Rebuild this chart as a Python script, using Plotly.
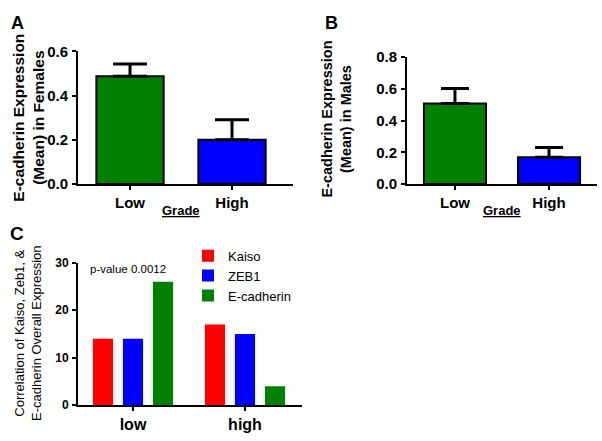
import plotly.graph_objects as go

# ---- data ----
grades = ["Low", "High"]
fem_mean = [0.487, 0.200]
fem_err = [0.056, 0.091]
male_mean = [0.507, 0.168]
male_err = [0.095, 0.062]

levels = ["low", "high"]
kaiso = [14, 17]
zeb1 = [14, 15]
ecad = [26, 4]

GREEN = "#008000"
BLUE = "#0000ff"
RED = "#ff0000"
FONT = "Liberation Sans"
W, H = 602, 441

def px_x(a, b):
    return [a / W, b / W]

def px_y(top, bottom):
    return [(H - bottom) / H, (H - top) / H]

fig = go.Figure()

# Panel A
fig.add_trace(go.Bar(
    x=grades, y=fem_mean, marker=dict(color=[GREEN, BLUE], line=dict(color="black", width=2)),
    width=0.66, showlegend=False, xaxis="x", yaxis="y",
    error_y=dict(type="data", symmetric=False, array=fem_err, arrayminus=[0, 0],
                 color="black", thickness=3, width=17)))
# Panel B
fig.add_trace(go.Bar(
    x=grades, y=male_mean, marker=dict(color=[GREEN, BLUE], line=dict(color="black", width=2)),
    width=0.66, showlegend=False, xaxis="x2", yaxis="y2",
    error_y=dict(type="data", symmetric=False, array=male_err, arrayminus=[0, 0],
                 color="black", thickness=3, width=14)))
# Panel C
for name, vals, col, off in [("Kaiso", kaiso, RED, -0.358), ("ZEB1", zeb1, BLUE, -0.09),
                             ("E-cadherin", ecad, GREEN, 0.178)]:
    fig.add_trace(go.Bar(x=levels, y=vals, name=name, marker=dict(color=col, line=dict(width=0)),
                         width=0.18, offset=off, xaxis="x3", yaxis="y3"))

bold = dict(family=FONT, size=15, color="black", weight="bold")
common_y = dict(showline=True, linecolor="black", linewidth=2, ticks="outside", ticklen=4,
                tickwidth=2, tickcolor="black", showgrid=False, zeroline=False, tickfont=bold,
                ticklabelstandoff=1)
common_x = dict(showline=True, linecolor="black", linewidth=2, ticks="outside", ticklen=4,
                tickwidth=2, tickcolor="black", showgrid=False, zeroline=False, tickfont=bold)

fig.update_layout(
    width=W, height=H, margin=dict(l=0, r=0, t=0, b=0),
    paper_bgcolor="white", plot_bgcolor="white", barmode="overlay",
    xaxis=dict(common_x, domain=px_x(78, 293), range=[-0.51, 1.598], anchor="y"),
    yaxis=dict(common_y, domain=px_y(44, 182), range=[0, 0.6], tickvals=[0, 0.2, 0.4, 0.6],
               tickformat=".1f", anchor="x"),
    xaxis2=dict(common_x, domain=px_x(407, 597), range=[-0.51, 1.51], anchor="y2"),
    yaxis2=dict(common_y, domain=px_y(50, 182), range=[0, 0.8], tickvals=[0, 0.2, 0.4, 0.6, 0.8],
                tickformat=".1f", anchor="x2"),
    xaxis3=dict(common_x, domain=px_x(78, 302), range=[-0.491, 1.509], anchor="y3",
                tickfont=dict(family=FONT, size=16, color="black", weight="bold")),
    yaxis3=dict(common_y, domain=px_y(264, 412), range=[0, 30], tickvals=[0, 10, 20, 30],
                anchor="x3", tickfont=dict(family=FONT, size=12, color="black", weight="bold")),
    legend=dict(x=188 / W, y=(H - 241) / H, xanchor="left", yanchor="top",
                font=dict(family=FONT, size=13, color="black"), bgcolor="rgba(0,0,0,0)",
                tracegroupgap=0),
    font=dict(family=FONT),
)

def ann(text, x, y, size, weight="bold", angle=0, underline=False):
    f = dict(family=FONT, size=size, color="black", weight=weight)
    if underline:
        f["lineposition"] = "under"
    fig.add_annotation(text=text, x=x / W, y=(H - y) / H, xref="paper", yref="paper",
                       showarrow=False, textangle=angle, font=f, xanchor="center", yanchor="middle")

ann("A", 17, 15, 18)
ann("B", 331, 15, 18)
ann("C", 17, 234, 19)
ann("E-cadherin Expression<br>(Mean) in Females", 29, 113, 15.5, angle=-90)
ann("E-cadherin Expression<br>(Mean) in Males", 337, 114, 14.5, angle=-90)
ann("Correlation of Kaiso, Zeb1, &<br>E-cadherin Overall Expression", 28, 337, 13,
    weight="normal", angle=-90)
ann("Grade", 181, 210, 13, underline=True)
ann("Grade", 502, 210, 13, underline=True)
ann("p-value 0.0012", 128, 270, 11.5, weight="normal")

fig.write_html("out.html", config={"displayModeBar": False},
               post_script="document.body.style.margin='0';document.body.style.padding='0';")
